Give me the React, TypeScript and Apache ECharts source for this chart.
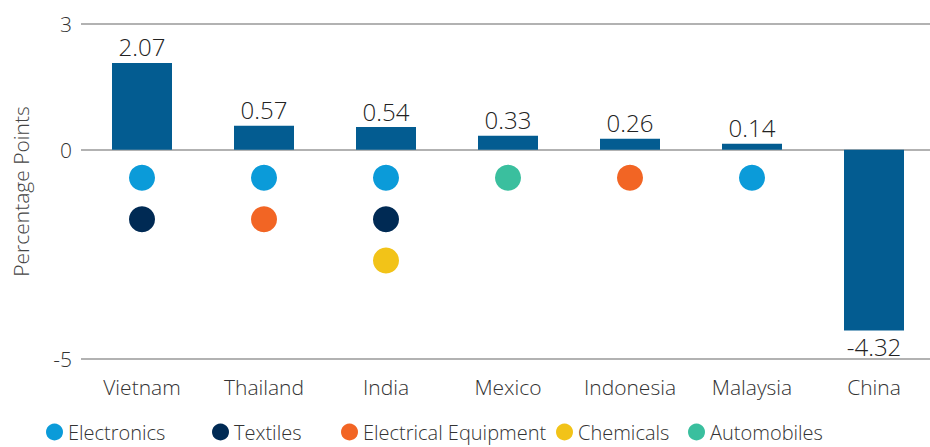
import React, { useEffect, useRef } from "react";
import * as echarts from "echarts";

const countries = ["Vietnam", "Thailand", "India", "Mexico", "Indonesia", "Malaysia", "China"];
const values = [2.07, 0.57, 0.54, 0.33, 0.26, 0.14, -4.32];
const sectors = ["Electronics", "Textiles", "Electrical Equipment", "Chemicals", "Automobiles"];
const sectorColors = ["#0b9bd9", "#002a54", "#f26524", "#f2c318", "#3abf9e"];
const countrySectors: string[][] = [
  ["Electronics", "Textiles"],
  ["Electronics", "Electrical Equipment"],
  ["Electronics", "Textiles", "Chemicals"],
  ["Automobiles"],
  ["Electrical Equipment"],
  ["Electronics"],
  [],
];
const yTicks = [-5, 0, 3];

const DOT_START = -0.67;
const DOT_STEP = 0.99;
const LEGEND_LEFT = [46, 212, 341, 556, 688];
const FONT = "'Open Sans', sans-serif";
const W = 300;
const TXT = "#333";

export default function App() {
  const ref = useRef<HTMLDivElement>(null);
  useEffect(() => {
    if (!ref.current) return;
    const chart = echarts.init(ref.current, null, { renderer: "svg" });
    const scatterSeries = sectors.map((s, si) => {
      const data: any[] = [];
      countrySectors.forEach((list, ci) => {
        const idx = list.indexOf(s);
        if (idx >= 0) data.push([countries[ci], DOT_START - idx * DOT_STEP]);
      });
      return {
        name: s,
        type: "scatter",
        data,
        symbol: "circle",
        symbolSize: 26,
        itemStyle: { color: sectorColors[si], opacity: 1 },
        z: 3,
      };
    });
    chart.setOption({
      animation: false,
      textStyle: { fontFamily: FONT },
      grid: { left: 81, right: 5, top: 24, bottom: 88, outerBoundsMode: "none", containLabel: false },
      legend: sectors.map((s, i) => ({
        data: [{ name: s, icon: "circle", itemStyle: { opacity: 1 } }],
        left: LEGEND_LEFT[i],
        top: 422,
        padding: 0,
        itemWidth: 17,
        itemHeight: 17,
        itemGap: 0,
        textStyle: {
          fontSize: 20,
          color: TXT,
          fontFamily: FONT,
          fontWeight: W,
          padding: [0, 0, 0, 0],
        },
      })),
      xAxis: {
        type: "category",
        data: countries,
        axisLine: { show: false },
        axisTick: { show: false },
        axisLabel: { fontSize: 21, color: TXT, margin: 17, fontFamily: FONT, fontWeight: W },
      },
      yAxis: {
        type: "value",
        min: -5,
        max: 3,
        interval: 1,
        name: "Percentage Points",
        nameLocation: "middle",
        nameRotate: 90,
        nameGap: 50,
        nameTextStyle: { fontSize: 21, color: "#444", fontFamily: FONT, fontWeight: W },
        splitLine: { show: false },
        axisLine: { show: false },
        axisTick: { show: false },
        axisLabel: {
          fontSize: 21,
          color: TXT,
          margin: 9,
          fontFamily: FONT,
          fontWeight: W,
          formatter: (v: number) => (yTicks.includes(v) ? String(v) : ""),
        },
      },
      series: [
        {
          type: "bar",
          data: values.map((v) => ({
            value: v,
            label: {
              show: true,
              position: v >= 0 ? "top" : "bottom",
              distance: 4,
              fontSize: 24,
              color: "#222",
              fontFamily: FONT,
              fontWeight: W,
              formatter: (p: any) => p.value.toFixed(2),
            },
          })),
          barWidth: 60,
          itemStyle: { color: "#035c91" },
          z: 2,
          markLine: {
            silent: true,
            symbol: "none",
            label: { show: false },
            lineStyle: { color: "#999", width: 1.5, type: "solid" },
            data: yTicks.map((t) => ({ yAxis: t })),
            z: 1,
          },
        },
        ...scatterSeries,
      ],
    });
    return () => chart.dispose();
  }, []);
  return (
    <div style={{ position: "fixed", left: 0, top: 0, width: 930, height: 447, overflow: "hidden", background: "#fff" }}>
      <div ref={ref} style={{ width: 940, height: 447 }} />
    </div>
  );
}
